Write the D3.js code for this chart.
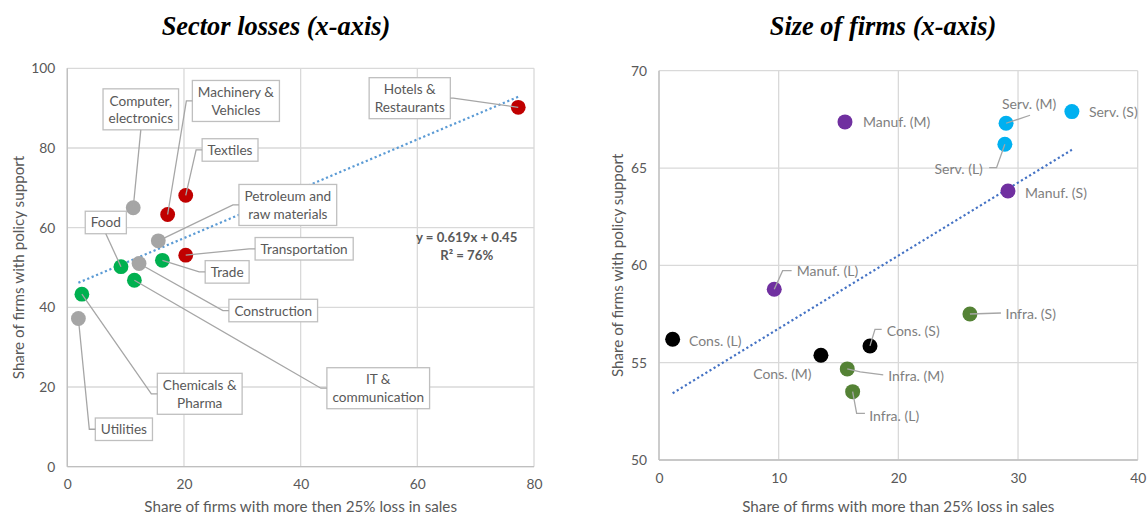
<!DOCTYPE html>
<html>
<head>
<meta charset="utf-8">
<script src="https://cdn.jsdelivr.net/npm/d3@7/dist/d3.min.js"></script>
<style>
  html, body { margin: 0; padding: 0; background: #fff; }
  svg { display: block; }
  text { font-family: Lato, "Open Sans", sans-serif; }
</style>
</head>
<body>
<svg id="chart" width="1148" height="516"></svg>
<script>
// ---------------- DATA ----------------
// Left chart: sector losses
const sectors = ["Hotels & Restaurants", "Textiles", "Machinery & Vehicles", "Computer, electronics",
  "Petroleum and raw materials", "Transportation", "Trade", "Food", "Construction",
  "IT & communication", "Chemicals & Pharma", "Utilities"];
const sectorLabelLines = [["Hotels &", "Restaurants"], ["Textiles"], ["Machinery &", "Vehicles"],
  ["Computer,", "electronics"], ["Petroleum and", "raw materials"], ["Transportation"], ["Trade"],
  ["Food"], ["Construction"], ["IT &", "communication"], ["Chemicals &", "Pharma"], ["Utilities"]];
const sectorLoss    = [77.3, 20.3, 17.2, 11.3, 15.6, 20.3, 16.3, 9.2, 12.3, 11.5, 2.5, 1.9];
const sectorSupport = [90.2, 68.1, 63.3, 65.0, 56.7, 53.1, 51.8, 50.2, 51.0, 46.8, 43.3, 37.2];
const sectorGroup   = ["red", "red", "red", "gray", "gray", "red", "green", "green", "gray", "green", "green", "gray"];
const sectorTrendSlope = 0.619, sectorTrendIntercept = 0.45;   // fraction units
const sectorEquation = ["y = 0.619x + 0.45", "R² = 76%"];
const leftXTicks = [0, 20, 40, 60, 80];
const leftYTicks = [0, 20, 40, 60, 80, 100];

// Right chart: size of firms
const firms = ["Manuf. (M)", "Manuf. (L)", "Manuf. (S)", "Serv. (M)", "Serv. (S)", "Serv. (L)",
  "Cons. (L)", "Cons. (M)", "Cons. (S)", "Infra. (M)", "Infra. (L)", "Infra. (S)"];
const firmGroup   = ["Manuf", "Manuf", "Manuf", "Serv", "Serv", "Serv", "Cons", "Cons", "Cons", "Infra", "Infra", "Infra"];
const firmLoss    = [15.54, 9.63, 29.16, 29.0, 34.5, 28.9, 1.14, 13.53, 17.63, 15.73, 16.18, 25.98];
const firmSupport = [67.37, 58.77, 63.82, 67.3, 67.9, 66.22, 56.2, 55.38, 55.86, 54.68, 53.51, 57.5];
const firmTrendSlope = 0.375, firmTrendIntercept = 53.0;
const rightXTicks = [0, 10, 20, 30, 40];
const rightYTicks = [50, 55, 60, 65, 70];

// ---------------- LAYOUT / STYLE ----------------
const sectorColors = { red: "#C00000", gray: "#A5A5A5", green: "#00B050" };
const firmColors = { Manuf: "#7030A0", Serv: "#00B0F0", Cons: "#000000", Infra: "#548235" };
// label box centres (in data units) and leader attachment side
const sectorLabelLayout = [
  { lx: 58.7, ly: 92.5, side: "right" },
  { lx: 27.9, ly: 79.5, side: "left" },
  { lx: 28.9, ly: 91.8, side: "left" },
  { lx: 12.6, ly: 89.7, side: "bottom" },
  { lx: 37.8, ly: 65.7, side: "left" },
  { lx: 40.6, ly: 54.7, side: "left" },
  { lx: 27.4, ly: 48.9, side: "left" },
  { lx: 6.6,  ly: 61.3, side: "bottom" },
  { lx: 35.3, ly: 39.2, side: "left" },
  { lx: 53.3, ly: 19.7, side: "left" },
  { lx: 22.7, ly: 18.3, side: "left" },
  { lx: 9.7,  ly: 9.4,  side: "left" }
];
// right labels: pixel offsets from the marker; leader = list of offsets
const firmLabelLayout = [
  { dx: 18, dy: 0, anchor: "start", leader: null },
  { dx: 22.4, dy: -18.6, anchor: "start", leader: [[0, 0], [8.4, -18.6], [17.4, -18.6]] },
  { dx: 17, dy: 1.7, anchor: "start", leader: null },
  { dx: -4, dy: -20, anchor: "start", leader: [[0, 0], [24, -8]] },
  { dx: 17, dy: 0.3, anchor: "start", leader: null },
  { dx: -22, dy: 24, anchor: "end", leader: [[0, 0], [-8.3, 23.4], [-15.7, 23.4]] },
  { dx: 16.3, dy: 0.7, anchor: "start", leader: null },
  { dx: -9.3, dy: 18, anchor: "end", leader: null },
  { dx: 16.7, dy: -15.3, anchor: "start", leader: [[0, 0], [5, -16.5], [11.7, -16.5]] },
  { dx: 41, dy: 7, anchor: "start", leader: [[0, 0], [13, 3], [36, 6]] },
  { dx: 16.6, dy: 24, anchor: "start", leader: [[0, 0], [4, 21.6], [12.3, 21.6]] },
  { dx: 35.7, dy: -0.7, anchor: "start", leader: [[0, 0], [31, -1]] }
];

const TEXT = "#595959", GRID = "#D9D9D9", AXIS = "#BFBFBF", LEADER = "#A6A6A6";
const svg = d3.select("#chart");
svg.append("rect").attr("width", 1148).attr("height", 516).attr("fill", "#fff");

function drawFrame(g, x, y, xTicks, yTicks, title, xTitle, yTitle, titleX, yTitleX) {
  const [x0, x1] = x.range(), [y0, y1] = y.range();
  // gridlines
  g.append("g").selectAll("line.v").data(xTicks).join("line")
    .attr("x1", d => x(d)).attr("x2", d => x(d)).attr("y1", y0).attr("y2", y1)
    .attr("stroke", GRID).attr("stroke-width", 1.3);
  g.append("g").selectAll("line.h").data(yTicks).join("line")
    .attr("x1", x0).attr("x2", x1).attr("y1", d => y(d)).attr("y2", d => y(d))
    .attr("stroke", GRID).attr("stroke-width", 1.3);
  // axis lines
  g.append("line").attr("x1", x0).attr("x2", x1).attr("y1", y0).attr("y2", y0).attr("stroke", AXIS).attr("stroke-width", 1.3);
  g.append("line").attr("x1", x0).attr("x2", x0).attr("y1", y0).attr("y2", y1).attr("stroke", AXIS).attr("stroke-width", 1.3);
  // tick labels via d3 axes
  const xa = g.append("g").attr("transform", `translate(0,${y0})`)
    .call(d3.axisBottom(x).tickValues(xTicks).tickSize(0).tickPadding(13));
  const ya = g.append("g").attr("transform", `translate(${x0},0)`)
    .call(d3.axisLeft(y).tickValues(yTicks).tickSize(0).tickPadding(12));
  [xa, ya].forEach(a => {
    a.select(".domain").remove();
    a.selectAll("text").attr("fill", TEXT).style("font-size", "13.8px").style("font-family", "Lato, sans-serif");
  });
  // titles
  g.append("text").attr("x", titleX).attr("y", 35).attr("text-anchor", "middle")
    .style("font-family", "'Liberation Serif', 'Times New Roman', serif")
    .style("font-weight", "bold").style("font-style", "italic").style("font-size", "26.4px")
    .attr("fill", "#000").text(title);
  g.append("text").attr("x", (x0 + x1) / 2).attr("y", 512).attr("text-anchor", "middle")
    .attr("fill", TEXT).style("font-size", "15.2px").text(xTitle);
  g.append("text").attr("transform", `translate(${yTitleX},${(y0 + y1) / 2}) rotate(-90)`)
    .attr("text-anchor", "middle").attr("dominant-baseline", "central")
    .attr("fill", TEXT).style("font-size", "15.2px").text(yTitle);
}

// ---------------- LEFT CHART ----------------
const xL = d3.scaleLinear().domain([0, 80]).range([67.3, 534]);
const yL = d3.scaleLinear().domain([0, 100]).range([466.7, 68.3]);
const gL = svg.append("g");
drawFrame(gL, xL, yL, leftXTicks, leftYTicks, "Sector losses (x-axis)",
  "Share of firms with more then 25% loss in sales", "Share of firms with policy support", 276, 18);

const leftData = sectors.map((s, i) => ({
  name: s, lines: sectorLabelLines[i], x: sectorLoss[i], y: sectorSupport[i],
  color: sectorColors[sectorGroup[i]], layout: sectorLabelLayout[i]
}));

// trendline
const lxMin = d3.min(sectorLoss), lxMax = d3.max(sectorLoss);
const lTrend = [lxMin, lxMax].map(v => [v, 100 * (sectorTrendSlope * v / 100 + sectorTrendIntercept)]);
gL.append("path").attr("d", d3.line().x(d => xL(d[0])).y(d => yL(d[1]))(lTrend))
  .attr("fill", "none").attr("stroke", "#5B9BD5").attr("stroke-width", 2.2).attr("stroke-dasharray", "2.2 2.6");

// equation
gL.append("g").selectAll("text").data(sectorEquation).join("text")
  .attr("x", 466.7).attr("y", (d, i) => 242 + i * 17.5).attr("text-anchor", "middle")
  .attr("fill", TEXT).style("font-weight", "bold").style("font-size", "13.2px").text(d => d);

// markers
gL.append("g").selectAll("circle").data(leftData).join("circle")
  .attr("cx", d => xL(d.x)).attr("cy", d => yL(d.y)).attr("r", 7.4).attr("fill", d => d.color);

// labels with boxes
const lineH = 17.6;
leftData.forEach(d => {
  const cx = xL(d.layout.lx), cy = yL(d.layout.ly);
  const lg = gL.append("g");
  const rect = lg.append("rect");
  const n = d.lines.length;
  const texts = lg.selectAll("text").data(d.lines).join("text")
    .attr("x", cx).attr("y", (t, i) => cy + (i - (n - 1) / 2) * lineH)
    .attr("text-anchor", "middle").attr("dominant-baseline", "central")
    .attr("fill", TEXT).style("font-size", "13.6px").text(t => t);
  let w = 0;
  texts.each(function () { w = Math.max(w, this.getComputedTextLength()); });
  const bw = w + 11, bh = n === 1 ? 22.5 : 41;
  const bx0 = cx - bw / 2, by0 = cy - bh / 2;
  rect.attr("x", bx0).attr("y", by0).attr("width", bw).attr("height", bh)
    .attr("fill", "#fff").attr("stroke", AXIS).attr("stroke-width", 1.3);
  const px = xL(d.x), py = yL(d.y);
  let pts;
  if (d.layout.side === "left") pts = [[bx0, cy], [bx0 - 6, cy], [px, py]];
  else if (d.layout.side === "right") pts = [[bx0 + bw, cy], [bx0 + bw + 3, cy], [px, py]];
  else pts = [[cx, by0 + bh], [px, py]];
  gL.append("path").attr("d", d3.line()(pts)).attr("fill", "none")
    .attr("stroke", LEADER).attr("stroke-width", 1.3);
});

// ---------------- RIGHT CHART ----------------
const xR = d3.scaleLinear().domain([0, 40]).range([659, 1137.7]);
const yR = d3.scaleLinear().domain([50, 70]).range([460, 70.7]);
const gR = svg.append("g");
drawFrame(gR, xR, yR, rightXTicks, rightYTicks, "Size of firms (x-axis)",
  "Share of firms with more than 25% loss in sales", "Share of firms with policy support", 883, 617);

const rightData = firms.map((f, i) => ({
  name: f, x: firmLoss[i], y: firmSupport[i], color: firmColors[firmGroup[i]], layout: firmLabelLayout[i]
}));

const rxMin = d3.min(firmLoss), rxMax = d3.max(firmLoss);
const rTrend = [rxMin, rxMax].map(v => [v, firmTrendSlope * v + firmTrendIntercept]);
gR.append("path").attr("d", d3.line().x(d => xR(d[0])).y(d => yR(d[1]))(rTrend))
  .attr("fill", "none").attr("stroke", "#4472C4").attr("stroke-width", 2.2).attr("stroke-dasharray", "2.2 2.6");

gR.append("g").selectAll("circle").data(rightData).join("circle")
  .attr("cx", d => xR(d.x)).attr("cy", d => yR(d.y)).attr("r", 7.5).attr("fill", d => d.color);

rightData.forEach(d => {
  const px = xR(d.x), py = yR(d.y);
  if (d.layout.leader) {
    gR.append("path").attr("d", d3.line()(d.layout.leader.map(p => [px + p[0], py + p[1]])))
      .attr("fill", "none").attr("stroke", LEADER).attr("stroke-width", 1.3);
  }
  gR.append("text").attr("x", px + d.layout.dx).attr("y", py + d.layout.dy)
    .attr("text-anchor", d.layout.anchor).attr("dominant-baseline", "central")
    .attr("fill", "#7F7F7F").style("font-size", "14px").text(d.name);
});
</script>
</body>
</html>
